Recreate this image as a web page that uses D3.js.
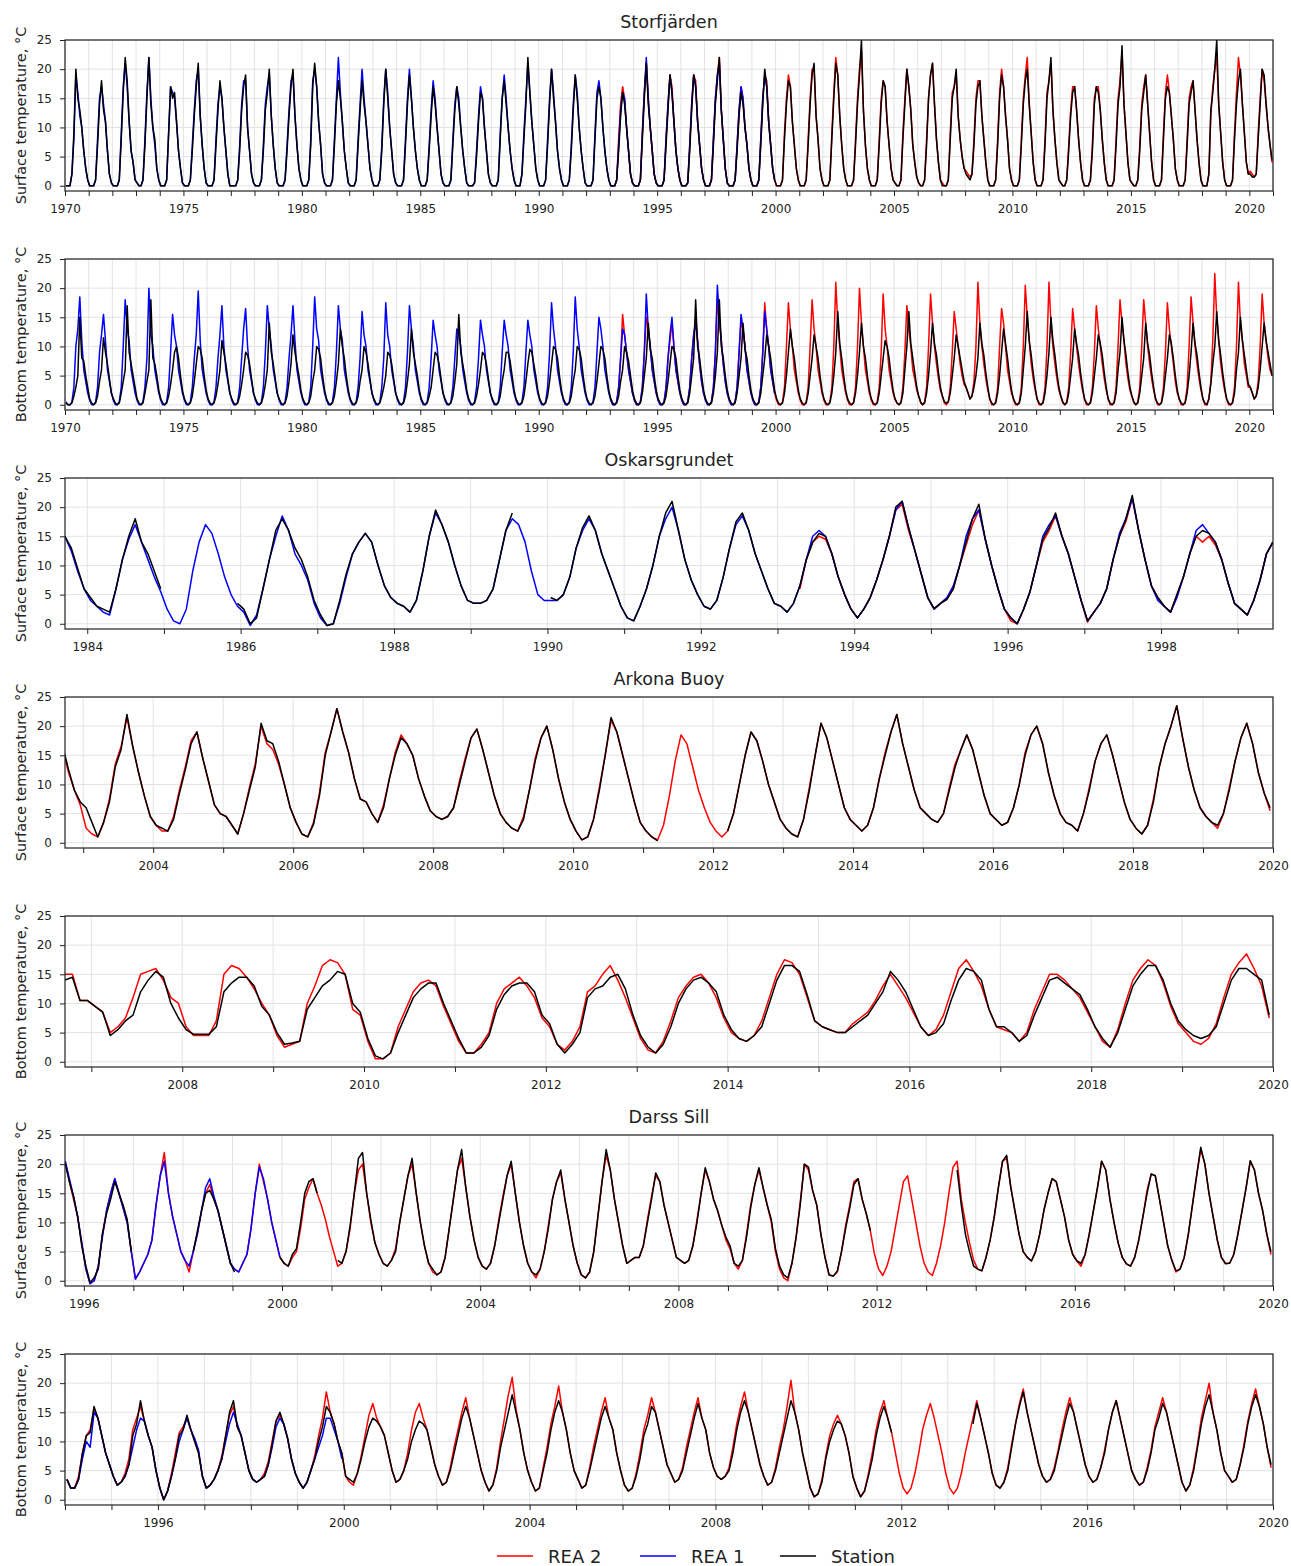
<!DOCTYPE html>
<html>
<head>
<meta charset="utf-8">
<script src="https://cdn.jsdelivr.net/npm/d3@7"></script>
<style>
  body { margin: 0; background: #fff; }
  text { font-family: "DejaVu Sans", sans-serif; fill: #222; }
</style>
</head>
<body>
<svg id="chart"></svg>
<script>
// monthly values, one row per year (Jan..Dec unless noted), _ = no data
const _ = null;

// Storfjärden surface
const storfSurfStation = [
  0,0,0,2,9,20,15,13,10,6,3,1, // 1970
  0,0,0,1,7,14,18,13,11,6,2,0.5,
  0,0,0,1,8,16,22,18,11,6,4,1,
  0.5,0,0,1,7,15,22,14,10,8,3,1,
  0,0,0,1,9,17,15,16,11,6,3,0.5,
  0,0,0,1,6,12,17,21,12,7,3,0.5, // 1975
  0,0,0,1,7,13,18,15,10,6,2,0,
  0,0,0,1,6,13,17,19,10,6,2,0.5,
  0,0,0,1,6,13,16,20,12,7,3,0.5,
  0,0,0,1,6,12,17,20,12,7,3,1,
  0,0,0,1,7,17,21,17,11,7,2,0.5, // 1980
  0,0,0,1,7,14,18,15,11,6,3,0.5,
  0,0,0,1,7,13,18,14,11,7,3,1,
  0,0,0,1,6,14,20,15,10,6,2,0.5,
  0,0,0,1,7,14,19,15,10,6,3,1,
  0,0,0,1,6,12,17,14,10,6,2,0.5, // 1985
  0,0,0,1,7,13,17,14,10,6,3,0.5,
  0,0,0,0.5,5,11,16,15,10,6,2,0.5,
  0,0,0,1,8,15,18,14,10,6,3,1,
  0,0,0,2,8,14,22,16,11,7,3,1,
  0,0,0,1,7,14,20,15,11,6,3,1, // 1990
  0,0,0,1,6,13,19,15,10,6,3,0.5,
  0,0,0,1,8,15,17,15,10,6,3,1,
  0,0,0,1,6,12,16,14,10,6,2,0.5,
  0,0,0,1,8,15,21,14,10,6,2,0.5,
  0,0,0,1,7,13,19,16,11,6,3,1, // 1995
  0,0,0,0.5,6,13,19,17,11,7,3,1,
  0,0,0,1,7,14,18,22,13,8,3,0.5,
  0,0,0,1,6,12,16,14,10,7,3,1,
  0,0,0,1,7,14,20,17,11,7,3,1,
  0,0,0,1,8,14,18,17,11,7,3,1, // 2000
  0,0,0,1,7,14,19,21,12,8,3,1,
  0,0,0,1,8,15,21,19,12,7,3,1,
  0,0,0,1,7,14,19,25,13,7,3,1,
  0,0,0,1,7,14,18,17,11,7,3,1,
  0.5,0,0,1,8,14,20,17,13,7,4,1.5, // 2005
  0.5,0,0,1,7,15,19,21,14,8,4,1,
  0,0,0,1,8,15,17,20,12,8,5,3,
  2,1.5,1,2,7,14,17,18,12,8,4,1,
  0,0,0,1,7,15,19,17,12,8,3,1,
  0,0,0,1,7,14,18,20,14,9,4,1, // 2010
  0,0,0,1,7,15,18,22,13,8,4,1,
  0.5,0,0,1,6,12,16,17,13,8,4,1,
  0,0,0,1,6,14,17,16,13,8,4,1,
  0,0,0,1,7,14,17,24,14,9,4,1,
  0.5,0,0,1,6,13,16,19,14,9,4,1, // 2015
  0,0,0,1,8,15,17,16,12,8,3,1,
  0,0,0,1,7,14,16,18,13,8,4,1,
  0,0,0,2,13,16,20,25,14,9,4,1,
  0,0,0,1,8,14,18,20,14,9,4,2,
  2,1.5,1.5,2,8,14,20,19,14,10,7,4.5 // 2020
];
const storfSurfRea1 = [
  0,0,0,2,8,19,16,12,10,6,3,1, // 1970
  0,0,0,1,8,15,17,14,11,6,2,0.5,
  0,0,0,1,9,17,21,17,11,6,4,1,
  0.5,0,0,1,8,16,22,15,10,7,3,1,
  0,0,0,1,9,17,16,15,11,6,3,0.5,
  0,0,0,1,7,13,18,20,12,7,3,0.5, // 1975
  0,0,0,1,8,14,17,15,10,6,2,0,
  0,0,0,1,7,14,18,18,10,6,2,0.5,
  0,0,0,1,7,14,17,19,12,7,3,0.5,
  0,0,0,1,7,13,18,19,12,7,3,1,
  0,0,0,1,8,18,20,17,11,7,2,0.5, // 1980
  0,0,0,1,8,15,22,16,11,6,3,0.5,
  0,0,0,1,8,14,20,15,11,7,3,1,
  0,0,0,1,7,15,20,16,10,6,2,0.5,
  0,0,0,1,8,15,20,15,10,6,3,1,
  0,0,0,1,7,13,18,15,10,6,2,0.5, // 1985
  0,0,0,1,8,14,17,15,10,6,3,0.5,
  0,0,0,0.5,6,12,17,15,10,6,2,0.5,
  0,0,0,1,9,15,19,15,10,6,3,1,
  0,0,0,2,9,15,21,16,11,7,3,1,
  0,0,0,1,8,15,20,16,11,6,3,1, // 1990
  0,0,0,1,7,14,19,16,10,6,3,0.5,
  0,0,0,1,9,16,18,15,10,6,3,1,
  0,0,0,1,7,13,16,15,10,6,2,0.5,
  0,0,0,1,9,16,22,15,10,6,2,0.5,
  0,0,0,1,8,14,19,16,11,6,3,1, // 1995
  0,0,0,0.5,7,14,19,17,11,7,3,1,
  0,0,0,1,8,15,19,21,13,8,3,0.5,
  0,0,0,1,7,13,17,15,10,7,3,1,
  0,0,0,1,8,15,19,17,11,7,3,1
];
const storfSurfRea2 = [
  0,0,0,1,8,14,17,15,10,6,2,0.5, // 1993
  0,0,0,1,9,16,21,15,10,6,2,0.5,
  0,0,0,1,8,14,19,17,11,6,3,1, // 1995
  0,0,0,0.5,7,14,19,18,11,7,3,1,
  0,0,0,1,8,15,19,22,13,8,3,0.5,
  0,0,0,1,7,13,17,15,10,7,3,1,
  0,0,0,1,8,15,19,18,11,7,3,1,
  0,0,0,1,9,15,19,17,11,7,3,1, // 2000
  0,0,0,1,8,15,20,20,12,8,3,1,
  0,0,0,1,9,16,22,19,12,7,3,1,
  0,0,0,1,8,15,20,23,13,7,3,1,
  0,0,0,1,8,15,18,17,11,7,3,1,
  0.5,0,0,1,9,15,20,17,13,7,4,1.5, // 2005
  0.5,0,0,1,8,15,19,21,14,8,4,1,
  0.5,0,0,1,9,16,17,19,12,8,5,3,
  2.5,2,1.5,2,8,15,18,18,12,8,4,1,
  0,0,0,1,8,16,20,17,12,8,3,1,
  0,0,0,1,8,15,19,22,14,9,4,1, // 2010
  0,0,0,1,8,16,18,21,13,8,4,1,
  0.5,0,0,1,7,13,17,17,13,8,4,1,
  0,0,0,1,7,15,17,17,13,8,4,1,
  0,0,0,1,8,15,18,23,14,9,4,1,
  0.5,0,0,1,7,14,17,19,14,9,4,1, // 2015
  0,0,0,1,9,16,19,16,12,8,3,1,
  0,0,0,1,8,15,17,18,13,8,4,1,
  0,0,0,2,12,17,20,22,14,9,4,1,
  0,0,0,1,9,16,22,19,14,9,4,2,
  2.5,2,1.5,2,9,15,20,18,14,10,7,4 // 2020
];

// Storfjärden bottom
const storfBotStation = [
  0.3,0,0,0.3,1.5,3,5,15,8,7.5,5,3, // 1970
  1,0.3,0,0.3,1.5,4,6,11.5,9,7,4.5,2,
  1,0.3,0,0.3,2,4,6,17,9,7,5,3,
  1,0.3,0,0.3,2,4,6,18,8,7,5,2.5,
  1,0.3,0,0.3,1.5,3.5,6,9,10,8,5,2.5,
  1,0.3,0,0.3,1.5,4,7,10,9.5,8,5,2.5, // 1975
  1,0.3,0,0.3,1.5,3.5,6,11,9,7,4.5,2,
  1,0.3,0,0.3,1.5,3.5,6,9,8.5,7,4.5,2,
  1,0.3,0,0.3,1.5,3.5,6,14,9,7,4.5,2,
  1,0.3,0,0.3,1.5,4,7,12,9,7,5,2.5,
  1,0.3,0,0.3,1.5,4,6,10,9.5,8,5,2.5, // 1980
  1,0.3,0,0.3,1.5,4,7,13,10,8,5,2.5,
  1,0.3,0,0.3,1.5,4,6,10,9,7,4.5,2,
  1,0.3,0,0.3,1.5,3,5,9,8.5,7,4.5,2,
  1,0.3,0,0.3,1.5,4,7,13,9,7,5,2.5,
  1,0.3,0,0.3,1.5,3,6,9,8.5,7,4.5,2, // 1985
  1,0.3,0,0.3,1.5,4,7,15.5,9,7,5,2.5,
  1,0.3,0,0.3,1.5,3.5,6,9,8.5,7,4.5,2,
  1,0.3,0,0.3,1.5,4,6,9,9,7.5,5,2.5,
  1,0.3,0,0.3,1.5,4,7,9.5,9,7,5,2.5,
  1,0.3,0,0.3,1.5,4,7,10,9.5,8,5,2.5, // 1990
  1,0.3,0,0.3,1.5,4,6,10,9.5,8,5,2.5,
  1,0.3,0,0.3,1.5,4,7,10,9.5,8,5,2.5,
  1,0.3,0,0.3,1.5,4,6,10,9,7.5,5,2.5,
  1,0.3,0,0.3,2,5,8,14,9.5,8,5,2.5,
  1,0.3,0,0.3,1.5,4,7,10,9.5,8,5,2.5, // 1995
  1,0.3,0,0.3,2,5,8,18,10,8,5,2.5,
  1,0.3,0,0.3,2,5,9,18,10,8,5,2.5,
  1,0.3,0,0.3,2,5,8,14,9.5,8,5,2.5,
  1,0.3,0,0.3,2,5,8,12,10,8,5,2.5,
  1,0.3,0,0.3,2,5,9,13,10,8,5,2.5, // 2000
  1,0.3,0,0.3,2,5,8,12,10,8,5,2.5,
  1,0.3,0,0.3,2,5,9,16,10.5,8,5,2.5,
  1,0.3,0,0.3,2,5,9,14,10,8,5,2.5,
  1,0.3,0,0.3,2,5,8,11,10,8,5,2.5,
  1,0.3,0,0.3,2,6,10,16,10.5,8,5.5,3, // 2005
  1.5,0.5,0,0.3,2,5,9,14,10.5,8.5,5.5,3,
  1.5,0.5,0.3,0.5,2,5,8,12,10,8,6,4,
  3,2,1,1.5,3,5,8,14,10.5,8.5,5.5,3,
  1,0.3,0,0.3,2,5,9,13,10.5,8,5,2.5,
  1,0.3,0,0.3,2,6,10,16,11,8.5,5.5,3, // 2010
  1,0.3,0,0.3,2,5,9,15,11,8.5,5.5,3,
  1.5,0.5,0,0.3,2,5,8,13,10.5,8.5,5.5,3,
  1,0.3,0,0.3,2,5,8,12,10.5,8.5,5.5,3,
  1,0.3,0,0.3,2,6,9,15,11,8.5,5.5,3,
  1.5,0.5,0,0.3,2,5,8,14,10.5,8.5,5.5,3, // 2015
  1,0.3,0,0.3,2,5,8,12,10.5,8,5,2.5,
  1,0.3,0,0.3,2,5,9,14,10.5,8.5,5.5,3,
  1,0.3,0,1,3.5,7,10,16,11,8.5,5.5,3,
  1,0.3,0,0.3,2,6,9,15,11,8.5,6,3.5,
  3,2,1,1.5,3,6,10,14,11,9,7,5 // 2020
];
const storfBotRea1 = [
  0.5,0,0,0.5,3,10,13,18.5,11,6,4,2, // 1970
  0.8,0,0,0.5,3,9,12,15.5,11,6,4,2,
  0.8,0,0,0.5,3,10,18,13,11,6,4,2,
  0.8,0,0,0.5,3,8,20,12,10,6,4,2,
  0.8,0,0,0.5,3,9,15.5,12,10,6,4,2,
  0.8,0,0,0.5,3,8,12,19.5,11,6,4,2, // 1975
  0.8,0,0,0.5,3,8,12,17,10,6,4,2,
  0.8,0,0,0.5,3,8,13,16.5,10,6,4,2,
  0.8,0,0,0.5,3,9,17,13,10,6,4,2,
  0.8,0,0,0.5,3,8,12,17,11,6,4,2,
  0.8,0,0,0.5,3,10,18.5,13,11,6,4,2, // 1980
  0.8,0,0,0.5,3,9,17,13,11,6,4,2,
  0.8,0,0,0.5,3,8,16,12,10,6,4,2,
  0.8,0,0,0.5,3,8,17.5,12,10,6,4,2,
  0.8,0,0,0.5,3,9,17,13,10,6,4,2,
  0.8,0,0,0.5,3,8,14.5,12,10,6,4,2, // 1985
  0.8,0,0,0.5,3,8,13,12,10,6,4,2,
  0.8,0,0,0.5,3,8,14.5,12,10,6,4,2,
  0.8,0,0,0.5,3,9,14.5,12,10,6,4,2,
  0.8,0,0,0.5,3,9,14.5,12,10,6,4,2,
  0.8,0,0,0.5,3,9,17.5,13,10,6,4,2, // 1990
  0.8,0,0,0.5,3,9,18.5,13,10,6,4,2,
  0.8,0,0,0.5,3,9,15,13,10,6,4,2,
  0.8,0,0,0.5,3,8,13,12,9,6,4,2,
  0.8,0,0,0.5,3,9,19,13,10,6,4,2,
  0.8,0,0,0.5,3,8,12,15,10,6,4,2, // 1995
  0.8,0,0,0.5,3,8,12,14,11,7,4,2,
  0.8,0,0,0.5,3,9,20.5,15,11,7,4,2,
  0.8,0,0,0.5,3,9,15.5,13,10,6,4,2,
  0.8,0,0,0.5,3,9,16,13,10,6,4,2
];
const storfBotRea2 = [
  0.8,0,0,0.5,3,8,15.5,12,9,6,4,2, // 1993
  0.8,0,0,0.5,3,9,15,13,10,6,4,2,
  0.8,0,0,0.5,3,8,11,14,10,6,4,2, // 1995
  0.8,0,0,0.5,3,8,12,15,11,7,4,2,
  0.8,0,0,0.5,3,9,18,14,11,7,4,2,
  0.8,0,0,0.5,3,9,14,13,10,6,4,2,
  0.8,0,0,0.5,3,9,17.5,13,10,6,4,2,
  0.8,0,0,0.5,3,10,17.5,13,10,6,4,2, // 2000
  0.8,0,0,0.5,3,10,18,13,10,6,4,2,
  0.8,0,0,0.5,3,10,21,14,10,6,4,2,
  0.8,0,0,0.5,3,10,20,14,10,6,4,2,
  0.8,0,0,0.5,3,9,19,13,10,6,4,2,
  1,0.3,0,0.5,3,9,17,13,10,6,4.5,2.5, // 2005
  1.5,0.3,0,0.5,3,10,19,14,10,7,4.5,2.5,
  1.5,0.3,0,0.5,3,9,16,13,10,7,5,3.5,
  3,2,1,1.5,4,10,21,14,10,7,4.5,2.5,
  1,0,0,0.5,3,10,16.5,14,10,6,4,2,
  1,0,0,0.5,3,10,20.5,15,11,7,4.5,2.5, // 2010
  1,0,0,0.5,3,10,21,14,10,7,4.5,2.5,
  1.5,0.3,0,0.5,3,9,16.5,13,10,7,4.5,2.5,
  1,0,0,0.5,3,9,17,13,10,7,4.5,2.5,
  1,0,0,0.5,3,10,18,14,11,7,4.5,2.5,
  1.5,0.3,0,0.5,3,10,18,14,10,7,4.5,2.5, // 2015
  1,0,0,0.5,3,9,17.5,13,10,7,4,2,
  1,0,0,0.5,3,10,18.5,14,10,7,4.5,2.5,
  1,0,0,1,4,11,22.5,15,11,7,4.5,2.5,
  1,0,0,0.5,3,10,21,14,11,7,5,3,
  3,2,1,1.5,4,10,19,14,11,8,6,5 // 2020
];

// Oskarsgrundet surface, from Sep 1983 (REA 2 from Apr 1993)
const oskSurfStation = [
  15,13,9.5,6, // 1983 Sep-Dec
  4.5,3,2.5,2,6,11,15,18,14,12,9,6,
  _,_,_,_,_,_,_,_,_,_,_,3.5, // 1985
  2.5,0,1,6,11,16,18,16,13,11,8,4,
  1.5,-0.3,0,4,8.5,12,14,15.5,14,10,6.5,4.5,
  3.5,3,2,4,9,15,19.5,17,14,10,6.5,4,
  3.5,3.5,4,6,11,16,19,_,_,_,_,_,
  4.5,4,5,8,13,16.5,18.5,16,12,9,6,3, // 1990
  1,0.5,3,6,10,15,19,21,16,11,7.5,5,
  3,2.5,4,8,13,17.5,19,16,12,9,6,3.5,
  3,2,3.5,6.5,11,14,15.5,15,12,8,5,2.5,
  1,2.5,4.5,7.5,11,15,20,21,16.5,12.5,8.5,4.5,
  2.6,3.5,4.2,6,10,14,18,20.5,14.5,10,6,2.5, // 1995
  1,0,2.5,5.5,10,14.5,16.5,19,15,12,8,4,
  0.5,2,3.5,6,11,15,18,22,16,11,6.5,4.5,
  3,2,5,8,12,15,16,15.5,14,11,7,3.5,
  2.5,1.5,4,7.5,12,14 // 1999 Jan-Jun
];
const oskSurfRea1 = [
  15,12.5,9,6,
  4,3,2,1.5,6,11,14.5,17,14,11,8,5.5,
  2.5,0.5,0,2.5,9,14,17,15.5,12,8,5,3, // 1985
  2,-0.3,1.5,6,11,15,18.5,16,12,10,7.5,3.5,
  1,-0.3,0,3.5,8,12,14,15.5,14,10,6.5,4.5,
  3.5,3,2,4,9,15,19,17,14,10,6.5,4,
  3.5,3.5,4,6,11,16,18,17,14,9,5,4,
  4,4,5,8,13,16,18,16,12,9,6,3, // 1990
  1,0.5,3,6,10,15,18,20,16,11,7.5,5,
  3,2.5,4,8,13,17,18.5,16,12,9,6,3.5,
  3,2,3.5,6.5,11,15,16,15,12,8,5,2.5,
  1,2.5,4.5,7.5,11,15,19.5,21,16.5,12.5,8.5,4.5,
  2.5,3.5,4.5,6.5,10,15,18,19.5,14.5,10,6,2.5, // 1995
  1,0,2.5,5.5,10,15,17,18.5,15,12,8,4,
  0.5,2,3.5,6,11,15.5,18,21.5,16,11,6.5,4,
  3,2,4.5,8,12,16,17,15.5,14,11,7,3.5,
  2.5,1.5,4,7.5,12,14
];
const oskSurfRea2 = [
  6,11,14,15,14.5,12,8,5,2.5, // 1993 Apr-Dec
  1,2.5,4.5,7.5,11,15,19.5,20.5,16,12.5,8.5,4.5,
  2.5,3.5,4.2,6,10,13.5,17,19.5,14.5,10,6,2.5, // 1995
  0.5,0,2.5,5.5,10,14,16,18.5,15,12,8,4,
  0.3,2,3.5,6,11,15,17.5,21.5,16,11,6.5,4.5,
  3,2,5,8,12,15,14,15,13.5,11,7,3.5,
  2.5,1.5,4,7.5,12,14
];

// Arkona Buoy surface, from Sep 2002
const arkSurfStation = [
  16.5,12.5,9,7, // 2002 Sep-Dec
  6,3.5,1,3.5,7,13,16,22,16.5,12,8,4.5,
  3,2.5,2,4,8.5,12.5,17,19,14.5,10.5,6.5,5,
  4.5,3,1.5,5,9,13,20.5,17.5,17,14,10,6, // 2005
  3.5,1.5,1,3.2,8,15,19,23,19,15.5,11,7.5,
  7,5,3.5,6,11,15,18,17,15,11,8,5.5,
  4.5,4,4.5,6,10,14,18,19.5,16,12,8,5,
  3.5,2.5,2,4,9,14,18,20,16,11,7,4,
  2,0.5,1,4,9,15,21.5,19,15,11,7,3.5, // 2010
  2,1,0.3,_,_,_,_,_,_,_,_,_,
  _,_,2,5,10,15,19,17.5,14,10,7,4,
  2.5,1.5,1,4,9,15,20.5,18,14,10,6,4,
  3,2,3,6,11,15,19,22,17,13,9,6,
  5,4,3.5,5,9,13,16,18.5,16,12,8,5, // 2015
  4,3,3.5,6,10,15,18.5,20,17,12,8,5,
  3.5,3,2,5,9,14,17,18.5,15,11,7,4,
  2.5,1.5,3,7,13,17,20,23.5,18,13,9,6,
  4.5,3.5,3,5,9,14,18,20.5,17,12,8.5,6
];
const arkSurfRea2 = [
  16,12,9,6.5,
  2.5,1.5,1,3.5,7.5,13.5,16.5,21.5,16.5,12,8,4.5,
  3,2,2,4.5,9,13,17.5,19,14.5,10.5,6.5,5,
  4.5,3,1.5,5,9.5,13.5,20,17,16,13.5,10,6, // 2005
  3.5,1.5,1,3.5,8.5,15.5,19,23,19,15.5,11,7.5,
  7,5,3.5,6.5,11,15.5,18.5,17,15,11,8,5.5,
  4.5,4,4.5,6,10.5,14.5,18,19.5,16,12,8,5,
  3.5,2.5,2,4.5,9,14.5,18,20,16,11,7,4,
  2,0.5,1,4,9.5,15,21,19,15,11,7,3.5, // 2010
  2,1,0.5,3,8,14,18.5,17,13,9,6,3.5,
  2,1,2,5,10,15,19,17.5,14,10,7,4,
  2.5,1.5,1,4,9.5,15,20.5,18,14,10,6,4,
  3,2,3,6,11,15.5,19,22,17,13,9,6,
  5,4,3.5,5,9.5,13.5,16,18.5,16,12,8,5, // 2015
  4,3,3.5,6,10,15.5,18.5,20,17,12,8,5,
  3.5,3,2,5,9.5,14,17,18.5,15,11,7,4,
  2.5,1.5,3,7.5,13,17,20,23.5,18,13,9,6,
  4.5,3.5,2.5,5,9.5,14,18,20.5,17,12,8.5,5.5
];

// Arkona Buoy bottom, from Sep 2006
const arkBotStation = [
  14,14.5,10.5,10.5, // 2006 Sep-Dec
  9.5,8.5,4.5,5.5,7,8,12,14,15.5,14.5,10,7.5,
  5.5,4.7,4.7,4.7,6,12,13.5,14.5,14.5,13,9.5,8,
  5,3,3.2,3.5,9,11,13,14,15.5,15,10,8.5,
  4,1,0.5,1.5,5,8,11,12.5,13.5,13.5,10,7, // 2010
  4,1.5,1.5,2.5,4.5,9,11.5,13,13.5,13.5,12,8,
  6.5,3,1.5,3,5,11,12.5,13,14.5,15,12.5,8,
  4.5,2.5,1.5,3,6,10,12.5,14,14.5,13.5,12,8,
  5.5,4,3.5,4.5,6,10,14,16.5,16.5,15.5,11.5,7,
  6,5.5,5,5,6,7,8,10,12,15.5,14,12, // 2015
  9,6,4.5,5,6.5,10.5,14,16,15.5,14,9,6,
  6,5,3.5,4.5,8,11,14,14.5,13.5,12.5,11.5,9,
  6,4,2.5,5,9,13,15,16.5,16.5,14,10,7,
  5.5,4.5,4,4.5,6,10,14,16,16,15,14,8
];
const arkBotRea2 = [
  15,15,10.5,10.5,
  9.5,8.5,5,6,7.5,11,15,15.5,16,14,11,10,
  6,4.5,4.5,4.5,7,15,16.5,16,14.5,12.5,10,8,
  4.5,2.5,3,3.5,10,13,16.5,17.5,17,15,9,8,
  3.5,0.5,0.5,1.5,6,9,12,13.5,14,13,9.5,6.5, // 2010
  3.5,1.5,1.5,3,5,10,12.5,13.5,14.5,13,11,7.5,
  6,3,2,3.5,6,12,13,15,16.5,14,11,7.5,
  4,2,1.5,3.5,7,11,13,14.5,15,13.5,11,7.5,
  5,4,3.5,4.5,7,11,15,17.5,17,15,11,7,
  6,5.5,5,5,6.5,7.5,8.5,10.5,13,15,13,11, // 2015
  8.5,6,4.5,5.5,8,12,16,17.5,15.5,13,9,6,
  5.5,5,3.5,5,9,12,15,15,14,12.5,11,8.5,
  6,3.5,2.5,5.5,10,14,16,17.5,16.5,13.5,9.5,6.5,
  5,3.5,3,4,6.5,11,15,17,18.5,16,13,7.5
];

// Darss Sill surface, from Aug 1995
const darssSurfStation = [
  20,17,14.5,11,6, // 1995 Aug-Dec
  2.5,-0.3,0.5,2,8,11.5,14,17,15,13,10.5,5,
  _,_,_,_,_,_,_,_,_,_,_,_,
  _,_,5,8.5,12,15,15.5,14,12,9,6,3,
  1.5,_,_,_,_,_,_,_,_,_,_,4,
  3,2.5,4.5,5.5,10,15,17,17.5,15,_,_,_, // 2000
  _,3.5,3,5,9.5,15,21,22,15,10.5,6.5,4.5,
  3,2.5,3.5,5,10,14,18,21,15,10,6,3,
  2,1,1.5,4,9,14,19,22.5,16,11,7,4,
  2.5,2,3,6,10,14,18,20.5,15,10,6,3,
  1.5,1,2,5,9,14,17,19,14,10,6,3, // 2005
  1,0.5,1.5,5,11,17,22.5,19,14,10,6,3,
  3.5,4,4,6,10,14,18.5,17,13,10,7,4,
  3.5,3,3.5,6,10,15,19.4,17,14,12,9.5,7.5,
  6,3,2.5,3.5,7.5,12.5,16.5,19.4,16,13,10.5,5.5,
  2.5,1,0.5,3,7.4,13,20,19.5,15.5,13,8,4, // 2010
  1,0.8,1.7,5,9,12.5,16.5,17.5,14,11.5,8.6,_,
  _,_,_,_,_,_,_,_,_,_,_,_,
  _,_,_,_,_,_,_,19,13,8,5,2.5,
  2,1.7,4,7,11,16,20.5,21.5,16,12,8,5,
  4,3.4,5,8,12,15,17.5,17,14,11,7,4.5, // 2015
  3.4,3,4.5,8,12,16,20.5,19,14,10,6.5,4,
  2.9,2.5,4,7,11,15,18.3,18,14,10,6,3.5,
  1.7,2,4,8,13,18,22.9,20,15,11,7,4,
  2.9,3,4.5,8,12,16,20.6,19,15,12,8,5
];
const darssSurfRea1 = [
  20.5,17.5,14.5,11,6.5, // 1995 Aug-Dec
  2,-0.5,0,2.5,7.5,12,15,17.5,15,12.5,10,5,
  0.3,1.5,3,4.5,7,13,18,20.5,15,11,8,5,
  3.5,2.5,5,8,12,16,17.5,14.5,12,9,6,3,
  2,1.5,3,4.5,9,15,19.5,17.5,14,10,7,4
];
const darssSurfRea2 = [
  20.5,17,14,11,6.5, // 1995 Aug-Dec
  2,-0.5,0,2.5,8,12,15,17.5,15,12.5,10,5,
  0.3,1.5,3,4.5,7,13,18,22,15,11,8,5,
  3.5,1.5,5,8,12,15,16.5,14,12,9,6,3,
  2,1.5,3,4.5,9,15,20,17,14,10,7,4,
  3,2.5,4,5,9,14,16,17.5,15,13,10.5,7.5, // 2000
  5,2.5,3,5,9,15,19,20,15,10,6.5,4.5,
  3,2.5,3.5,5.5,10,14,18,20,15,10,6,3,
  1.5,1,1.5,4,9,14,19,21,16,11,7,4,
  2.5,2,3,6,10.5,14.5,18,20,15,10,6,3,
  1.5,0.5,2,5,9.5,14,17,18.5,14,10,6,3, // 2005
  1,0.5,1.5,5,11,17,21.5,19,14,10,6,3,
  3.5,4,4,6,10.5,14.5,18,17,13,10,7,4,
  3.5,3,3.5,6,10.5,15,19,17,14,12,9.5,7,
  5.5,3,2,3.5,8,13,16.5,19,16,13,10,5,
  2,0.5,0,3,7.5,13.5,20,19,15.5,13,8,4, // 2010
  1,0.8,1.5,5,9.5,13,17,17.5,14,11.5,8.5,4.5,
  2,0.9,2.5,5,9,13,17,18,14,10,6,3,
  1.5,0.9,3,6,10,15,19.5,20.5,14,10,6.5,3.5,
  2,1.7,4,7,11,16,20.5,21,16,12,8,5,
  4,3.4,5,8,12,15,17.5,17,14,11,7,4.5, // 2015
  3.4,2.5,4.5,8,12,16,20.5,19,14,10,6.5,4,
  2.9,2.5,4,7,11,15.5,18.3,18,14,10,6,3.5,
  1.5,2,4,8,13,18,22.5,20,15,11,7,4,
  3,3,4.5,8,12,16,20.5,19,15,12,8,4.5
];

// Darss Sill bottom, from Jan 1994
const darssBotStation = [
  3.5,2,2,3.5,8,11,11.5,16,14,11,8,6, // 1994
  4,2.5,3,4,6,11,13,17,13.5,11,9,5,
  2,0,1.5,4,7,11,12,14.5,12,10,8,4,
  2,2.5,3.5,5,7,11,15,17,12.5,11,8,5,
  3.5,3,3.5,4,6,9.5,13.5,15,13,10.5,7,4.5,
  3,2,3,5,7,10,12.5,16,15,13,10,8,
  4,3.5,3,4.5,7,10,12.5,14,13.5,12.5,11,8, // 2000
  5,3,3.5,5,7,10,12,13.5,13,12,9,6,
  4,2.5,3,5,8,11,14,16,14,11,8,5,
  3,1.5,2.5,5,9,12,15,18,15,12,8,5,
  3,1.5,2,5,8,12,15,17,15,12,8,5,
  3.5,2,2.5,5,8,11,14,16,14,12,8,5, // 2005
  2.5,1.5,2,4,7,11,13,16,15,12,9,6,
  4.5,3,3.5,5,8,11,14,16.5,14,12,8,5.5,
  4,3.5,4,5,8,12,15,17,15,12,9,6,
  4,2.5,3,5,8,11,14,17,15,12,8,5,
  2,0.5,1,3,7,10,12,13.5,13,11,8,4, // 2010
  2,0.5,1.5,4,7,11,14,16,14,11.5,_,_,
  _,_,_,_,_,_,_,_,_,_,_,_,
  _,_,_,_,_,_,13,16.5,14,11,8,4.5,
  2.5,2,3,5,9,13,16,18.5,15,12,9,6,
  4,3,3.5,5,8,11,14,16.5,15,12,9,6, // 2015
  4,3,3.5,5.5,8,12,15,17,14,11,8,5,
  3.5,2.5,3,5,8,12,14,16.5,15,12,9,6,
  3,1.5,2.5,5,9,13,16,18,15,12,8,5,
  4,3,3.5,6,9,13,16,18,16,13,9,6
];
const darssBotRea1 = [
  3.5,2,2,3.5,7,10,9,15,14,11,8,6, // 1994
  4,2.5,3,4,6,9,12,14,13.5,11,9,5,
  2,0,1.5,4,7,10,12,14,12,10.5,8.5,4,
  2,2.5,3.5,5,7,10,13,15,13,11,8,5,
  3.5,3,3.5,4,6,9,12.5,14,13,10.5,7,4.5,
  3,2,3,5,7,9,11,14,14,12,10,7
];
const darssBotRea2 = [
  3.5,2,2,4,8,11,12,15.5,14,11,8,6, // 1994
  4,2.5,3,4.5,7,12,14,16,13.5,11,9,5,
  2,0,1.5,4.5,8,11.5,12.5,14,12,10,8,4,
  2,2.5,3.5,5,7.5,11,14.5,16,12.5,11,8,5,
  3.5,3,3.5,4.5,6.5,10,13.5,14.5,13,10.5,7,4.5,
  3,2,3,5,7.5,11,14,18.5,15,13,10,8,
  4,3,2.5,4.5,7.5,11,14.5,16.5,14,12.5,11,8, // 2000
  5,3,3.5,5,8,12,15,16.5,14,12,9,6,
  4,2.5,3,5.5,9,12,15,17.5,14,11,8,5,
  3,1.5,2.5,5.5,10,14,18,21,15.5,12,8,5,
  3,1.5,2,5.5,9,13,16,19.5,15,12,8,5,
  3.5,2,2.5,5.5,9,12,15,17.5,14,12,8,5, // 2005
  2.5,1.5,2,4.5,8,12,14.5,17.5,15,12,9,6,
  4.5,3,3.5,5.5,9,12,15,17.5,14,12,8,5.5,
  4,3.5,4,5.5,9,13,16,18.5,15,12,9,6,
  4,2.5,3,5.5,9,12,16,20.5,15,12,8,5,
  2,0.5,1,3.5,7.5,11,13,14.5,13,11,8,4, // 2010
  2,0.5,1.5,4.5,8,12,15,17,14,11.5,8,4.5,
  2,1,2,4.5,8,12,14.5,16.5,14,11,8,4.5,
  2,1,2,4.5,8,11,14,17,14,11,8,4.5,
  2.5,2,3,5.5,9.5,13,16.5,19,15,12,9,6,
  4,3,3.5,5.5,8.5,12,15,17.5,15,12,9,6, // 2015
  4,3,3.5,5.5,8.5,12,15,17,14,11,8,5,
  3.5,2.5,3,5.5,8.5,12.5,15,17.5,15,12,9,6,
  3,1.5,2.5,5.5,9.5,14,17,20,15,12,8,5,
  4,3,3.5,6,9.5,13.5,16.5,19,16,13,9,5.5
];

const yTicks = [0, 5, 10, 15, 20, 25];
const legendItems = [
  {name: "REA 2", color: "#ff0000"},
  {name: "REA 1", color: "#0000ff"},
  {name: "Station", color: "#000000"}
];

const RED = "#ff0000", BLUE = "#0000ff", BLACK = "#000000";
const SURF = "Surface temperature, °C", BOT = "Bottom temperature, °C";

const panels = [
  {top: 40, title: "Storfjärden", ylabel: SURF, xdom: [1970, 2021], every: 5, series: [
    {v: storfSurfRea2, start: 1993, c: RED}, {v: storfSurfRea1, start: 1970, c: BLUE}, {v: storfSurfStation, start: 1970, c: BLACK}]},
  {top: 259, title: null, ylabel: BOT, xdom: [1970, 2021], every: 5, series: [
    {v: storfBotRea2, start: 1993, c: RED}, {v: storfBotRea1, start: 1970, c: BLUE}, {v: storfBotStation, start: 1970, c: BLACK}]},
  {top: 478, title: "Oskarsgrundet", ylabel: SURF, xdom: [1983.71, 1999.46], every: 2, series: [
    {v: oskSurfRea2, start: 1993 + 3/12, c: RED}, {v: oskSurfRea1, start: 1983 + 8/12, c: BLUE}, {v: oskSurfStation, start: 1983 + 8/12, c: BLACK}]},
  {top: 697, title: "Arkona Buoy", ylabel: SURF, xdom: [2002.74, 2020], every: 2, series: [
    {v: arkSurfRea2, start: 2002 + 8/12, c: RED}, {v: arkSurfStation, start: 2002 + 8/12, c: BLACK}]},
  {top: 916, title: null, ylabel: BOT, xdom: [2006.71, 2020], every: 2, series: [
    {v: arkBotRea2, start: 2006 + 8/12, c: RED}, {v: arkBotStation, start: 2006 + 8/12, c: BLACK}]},
  {top: 1135, title: "Darss Sill", ylabel: SURF, xdom: [1995.62, 2020], every: 4, series: [
    {v: darssSurfRea2, start: 1995 + 7/12, c: RED}, {v: darssSurfRea1, start: 1995 + 7/12, c: BLUE}, {v: darssSurfStation, start: 1995 + 7/12, c: BLACK}]},
  {top: 1354, title: null, ylabel: BOT, xdom: [1994, 2020], every: 4, series: [
    {v: darssBotRea2, start: 1994, c: RED}, {v: darssBotRea1, start: 1994, c: BLUE}, {v: darssBotStation, start: 1994, c: BLACK}]}
];

const width = 1291, height = 1566;
const left = 65, right = 1273, plotH = 151;

const svg = d3.select("#chart").attr("width", width).attr("height", height);

function toPoints(values, start) {
  return values.map((v, i) => ({t: start + (i + 0.5) / 12, v: v}));
}

panels.forEach((p, k) => {
  const x = d3.scaleLinear().domain(p.xdom).range([left, right]);
  const y = d3.scaleLinear().domain([-0.9, 25]).range([p.top + plotH, p.top]);
  const g = svg.append("g");

  const years = d3.range(Math.ceil(p.xdom[0]), Math.floor(p.xdom[1]) + 1);

  // grid
  g.append("g").selectAll("line").data(years).join("line")
    .attr("x1", d => x(d)).attr("x2", d => x(d))
    .attr("y1", p.top).attr("y2", p.top + plotH)
    .attr("stroke", "#e3e3e3").attr("stroke-width", 1);
  g.append("g").selectAll("line").data(yTicks).join("line")
    .attr("x1", left).attr("x2", right)
    .attr("y1", d => y(d)).attr("y2", d => y(d))
    .attr("stroke", "#e3e3e3").attr("stroke-width", 1);

  // lines
  const clipId = "clip" + k;
  svg.append("clipPath").attr("id", clipId).append("rect")
    .attr("x", left).attr("y", p.top).attr("width", right - left).attr("height", plotH);
  const line = d3.line()
    .defined(d => d.v !== null)
    .x(d => x(d.t))
    .y(d => y(d.v));
  const lg = g.append("g").attr("clip-path", "url(#" + clipId + ")");
  p.series.forEach(s => {
    lg.append("path")
      .attr("d", line(toPoints(s.v, s.start)))
      .attr("fill", "none")
      .attr("stroke", s.c)
      .attr("stroke-width", 1.5)
      .attr("stroke-linejoin", "round");
  });

  // axes
  const xAxis = d3.axisBottom(x).tickValues(years)
    .tickFormat(d => d % p.every === 0 ? d : "")
    .tickSize(5).tickPadding(8);
  g.append("g").attr("transform", "translate(0," + (p.top + plotH) + ")").call(xAxis)
    .call(a => a.select(".domain").remove())
    .call(a => a.selectAll("line").attr("stroke", "#222"))
    .call(a => a.selectAll("text").attr("font-size", 12).attr("font-family", "DejaVu Sans").attr("fill", "#222"));
  const yAxis = d3.axisLeft(y).tickValues(yTicks).tickSize(5).tickPadding(8);
  g.append("g").attr("transform", "translate(" + left + ",0)").call(yAxis)
    .call(a => a.select(".domain").remove())
    .call(a => a.selectAll("line").attr("stroke", "#222"))
    .call(a => a.selectAll("text").attr("font-size", 12).attr("font-family", "DejaVu Sans").attr("fill", "#222"));

  // frame
  g.append("rect").attr("x", left).attr("y", p.top)
    .attr("width", right - left).attr("height", plotH)
    .attr("fill", "none").attr("stroke", "#222").attr("stroke-width", 1.2);

  if (p.title) {
    g.append("text").attr("x", (left + right) / 2).attr("y", p.top - 12)
      .attr("text-anchor", "middle").attr("font-size", 17.5).text(p.title);
  }
  g.append("text")
    .attr("transform", "translate(26," + (p.top + plotH / 2) + ") rotate(-90)")
    .attr("text-anchor", "middle").attr("font-size", 14.5).text(p.ylabel);
});

// legend
const legX = [497, 640, 780];
const leg = svg.append("g");
legendItems.forEach((d, i) => {
  leg.append("line").attr("x1", legX[i]).attr("x2", legX[i] + 36)
    .attr("y1", 1556).attr("y2", 1556).attr("stroke", d.color).attr("stroke-width", 1.3);
  leg.append("text").attr("x", legX[i] + 51).attr("y", 1562.5)
    .attr("font-size", 18).text(d.name);
});
</script>
</body>
</html>
